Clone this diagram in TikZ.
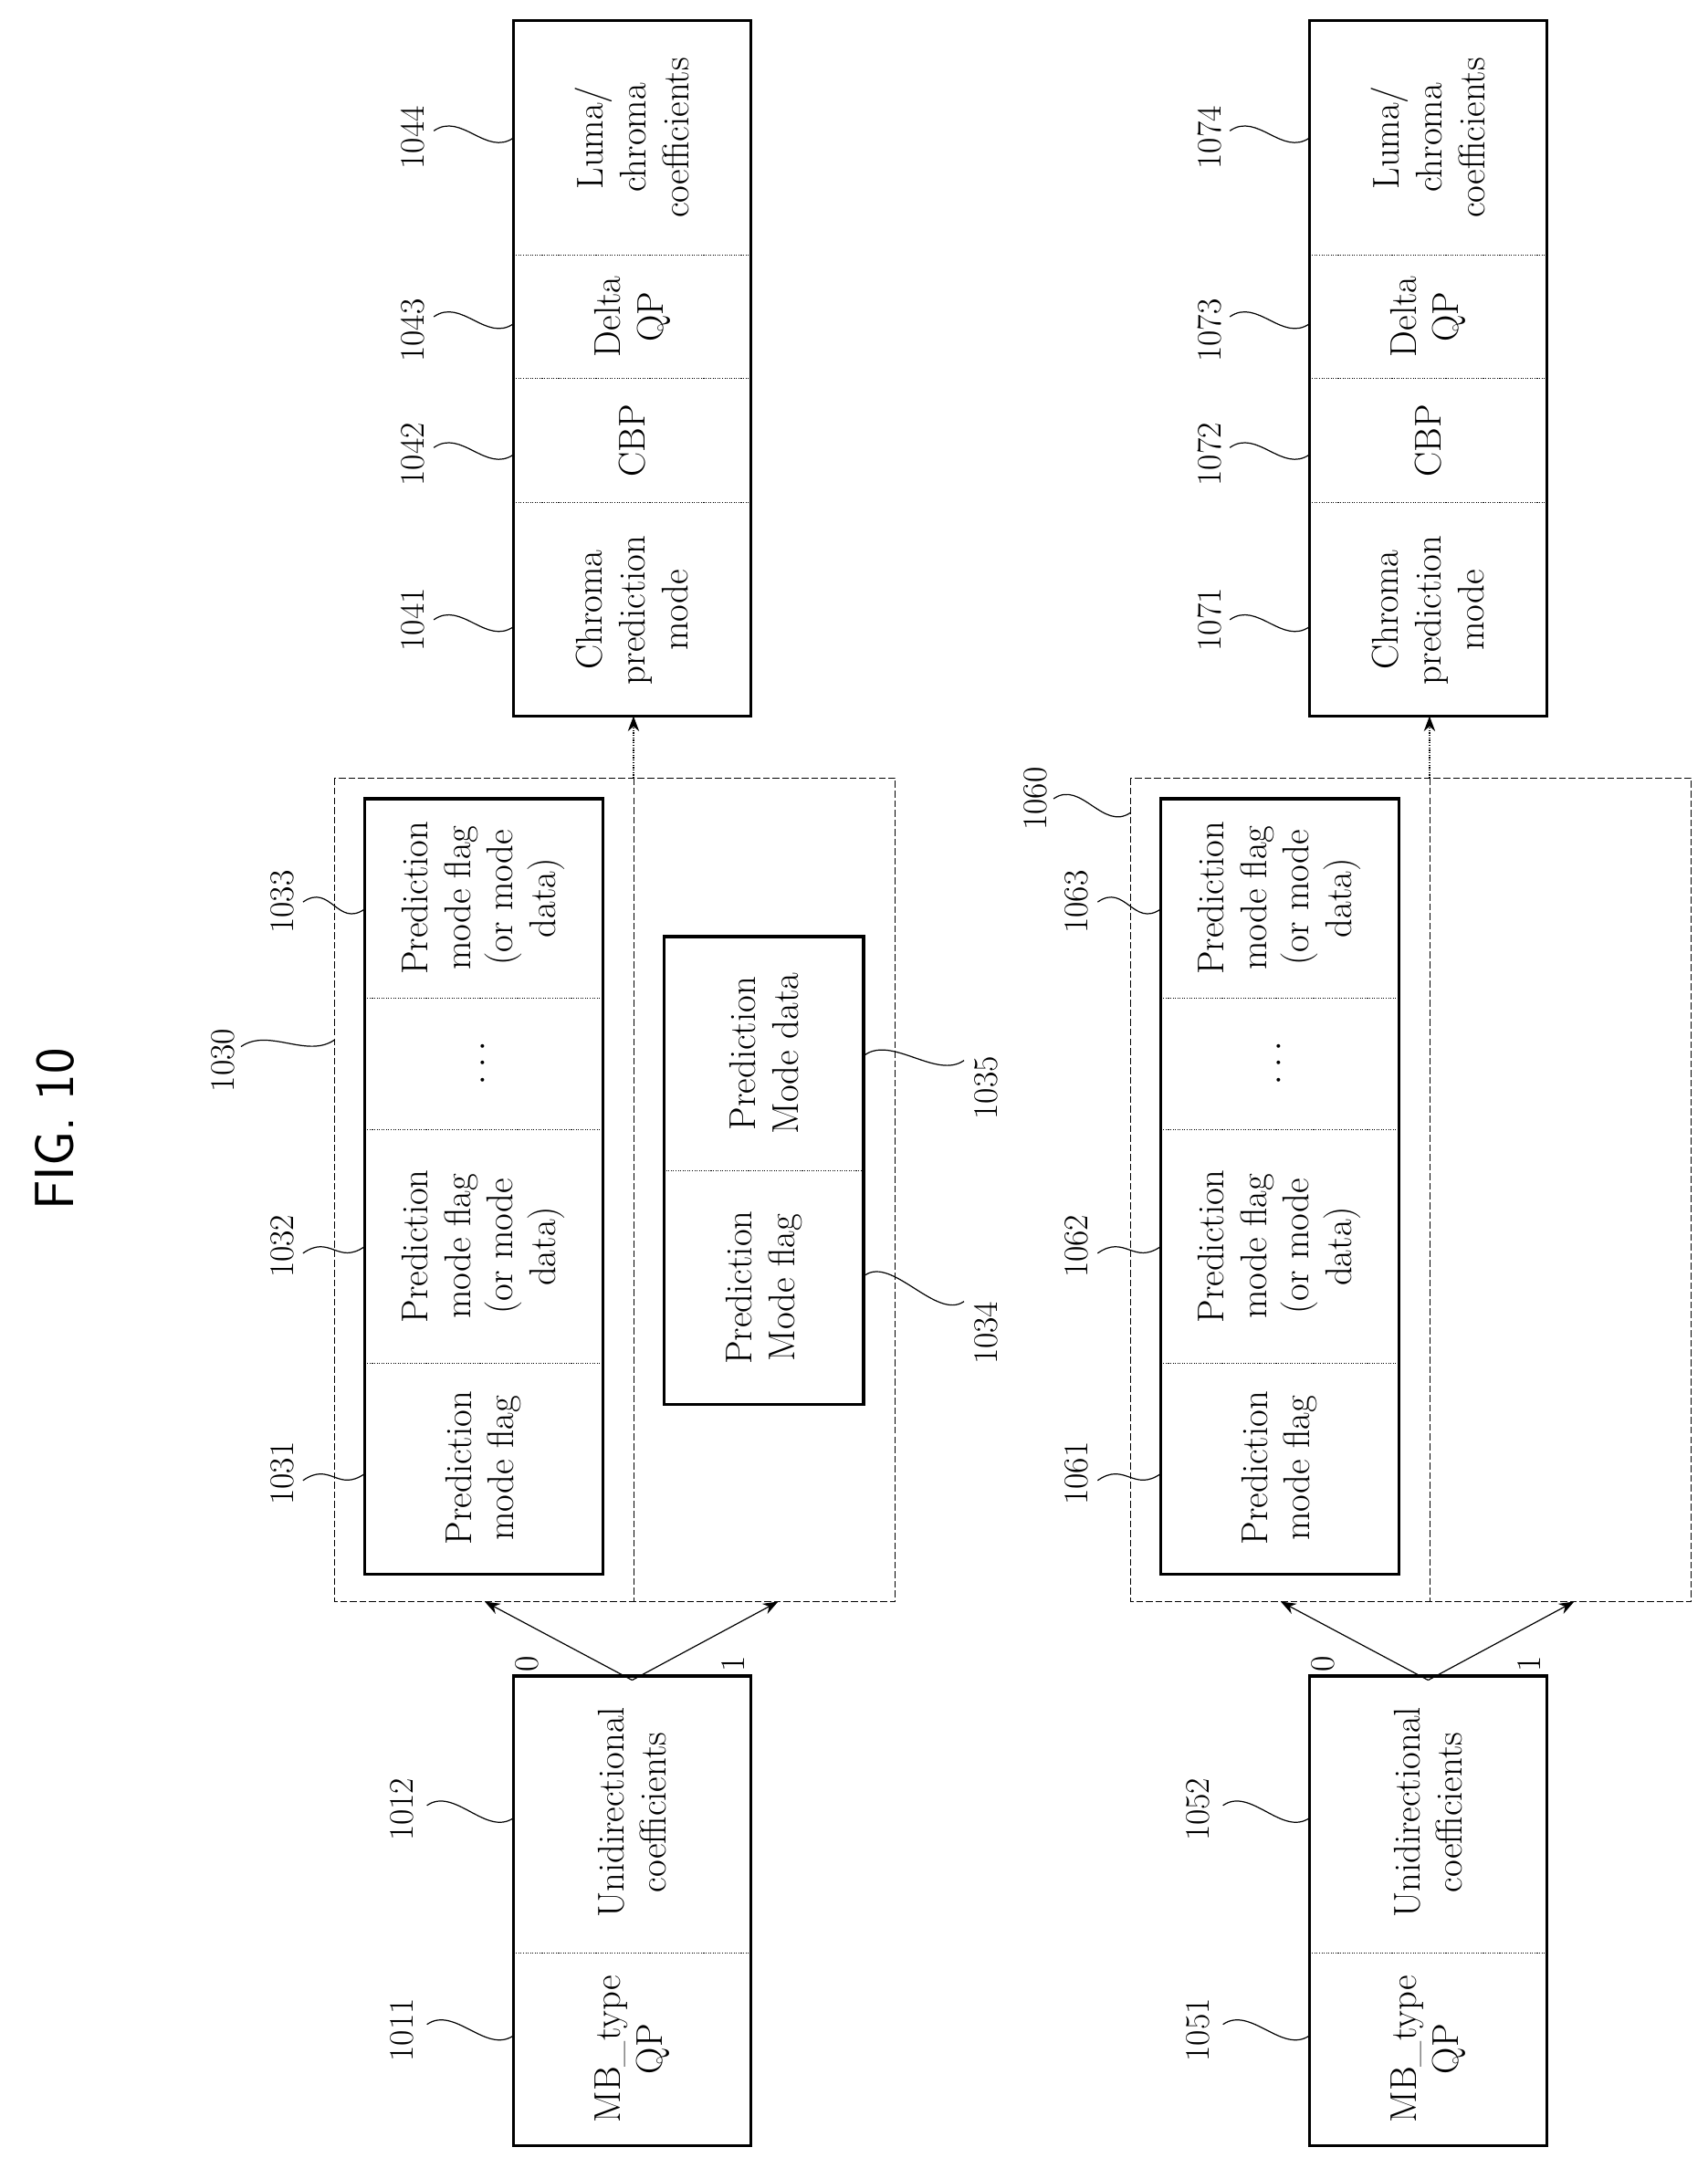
\documentclass[tikz,border=0pt]{standalone}
\usetikzlibrary{arrows.meta}
\begin{document}
\begin{tikzpicture}[x=1pt,y=-1pt,
  txt/.style={rotate=90,align=center,font=\fontsize{27}{31}\selectfont,inner sep=0pt},
  lab/.style={rotate=90,font=\fontsize{25}{28}\selectfont,inner sep=1pt},
  thick box/.style={line width=2.2pt},
  div/.style={densely dotted,line width=0.7pt},
  dbox/.style={dash pattern=on 5pt off 2pt,line width=0.6pt},
  lead/.style={line width=0.8pt},
  arr/.style={-{Stealth[length=11pt]},line width=0.8pt}]
\useasboundingbox (0,0) rectangle (1240,1567);
\node[rotate=90,font=\fontsize{40}{44}\selectfont\sffamily] (title) at (40,820) {FIG. 10};
\newcommand\leadr[4]{\node[lab] (#1) at (#2) {#1};
  \draw[lead] (#3) .. controls +(20,-14) and +(-20,14) .. (#4);}
\newcommand\grp[2]{%
\begin{scope}[xshift=#1]
\draw[thick box] (373,1217) rectangle (545,1558);
\draw[div] (373,1418) -- (545,1418);
\node[txt] (mb#2) at (459,1488) {MB\_type\\QP};
\node[txt] (uc#2) at (459,1316) {Unidirectional\\coefficients};
\coordinate (src#2) at (459,1220);
\draw[dbox] (243,565) rectangle (650,1163);
\draw[dbox] (460,565) -- (460,1163);
\coordinate (g0#2) at (352,1163);
\coordinate (g1#2) at (565,1163);
\draw[arr] (src#2) -- (g0#2);
\draw[arr] (src#2) -- (g1#2);
\node[lab] (z#2) at (383,1208) {0};
\node[lab] (o#2) at (532,1208) {1};
\draw[thick box] (265,580) rectangle (438,1143);
\draw[div] (265,990) -- (438,990);
\draw[div] (265,820) -- (438,820);
\draw[div] (265,725) -- (438,725);
\node[txt] (pa#2) at (351,1066) {Prediction\\mode flag};
\node[txt] (pb#2) at (351,905) {Prediction\\mode flag\\(or mode\\data)};
\node[txt] (pc#2) at (351,772) {$\cdot\cdot\cdot$};
\node[txt] (pd#2) at (351,652) {Prediction\\mode flag\\(or mode\\data)};
\coordinate (top#2) at (460,565);
\draw[thick box] (373,15) rectangle (545,520);
\draw[div] (373,365) -- (545,365);
\draw[div] (373,275) -- (545,275);
\draw[div] (373,185) -- (545,185);
\coordinate (tb#2) at (460,520);
\draw[arr,densely dotted] (top#2) -- (tb#2);
\node[txt] (cp#2) at (459,443) {Chroma\\prediction\\mode};
\node[txt] (cb#2) at (459,320) {CBP};
\node[txt] (dq#2) at (459,230) {Delta\\QP};
\node[txt] (lc#2) at (459,100) {Luma/\\chroma\\coefficients};
\end{scope}}
\grp{0}{a}
\grp{578}{b}
\draw[thick box] (482,680) rectangle (627,1020);
\draw[div] (482,850) -- (627,850);
\node[txt] (mf) at (555,935) {Prediction\\Mode flag};
\node[txt] (md) at (555,765) {Prediction\\Mode data};
% labels upper
\leadr{1011}{292,1474}{310,1470}{373,1478}
\leadr{1012}{292,1314}{310,1311}{373,1320}
\leadr{1031}{205,1070}{220,1075}{265,1070}
\leadr{1032}{205,905}{220,910}{265,905}
\leadr{1030}{162,770}{175,760}{243,755}
\leadr{1033}{205,655}{220,655}{265,660}
\leadr{1034}{716,968}{628,926}{700,945}
\leadr{1035}{716,790}{628,766}{700,770}
\leadr{1041}{300,450}{315,450}{373,455}
\leadr{1042}{300,330}{315,325}{373,330}
\leadr{1043}{300,240}{315,230}{373,235}
\leadr{1044}{300,100}{315,95}{373,100}
% labels lower
\leadr{1051}{870,1474}{888,1470}{951,1478}
\leadr{1052}{870,1314}{888,1311}{951,1320}
\leadr{1061}{782,1070}{797,1075}{843,1070}
\leadr{1062}{782,905}{797,910}{843,905}
\leadr{1063}{782,655}{797,655}{843,660}
\leadr{1060}{752,580}{765,580}{821,590}
\leadr{1071}{878,450}{893,450}{951,455}
\leadr{1072}{878,330}{893,325}{951,330}
\leadr{1073}{878,240}{893,230}{951,235}
\leadr{1074}{878,100}{893,95}{951,100}
\end{tikzpicture}
\end{document}
